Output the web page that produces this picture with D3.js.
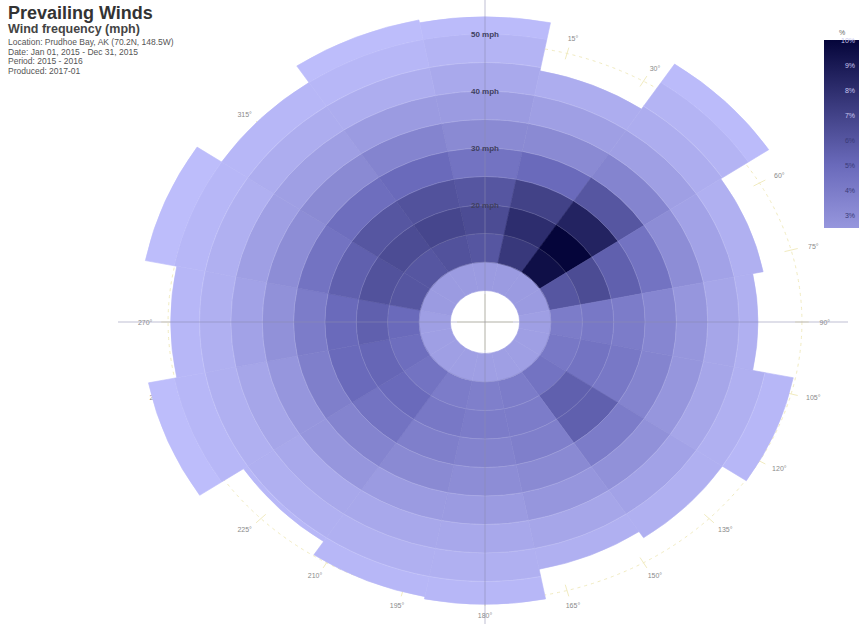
<!DOCTYPE html>
<html><head><meta charset="utf-8">
<script src="https://cdn.jsdelivr.net/npm/d3@7"></script>
<style>body{margin:0;background:#fff;} svg{display:block;font-family:"Liberation Sans",Arial,sans-serif;}</style>
</head><body><svg id="c" width="859" height="624"></svg>
<script>
// ---------------- data ----------------
const directions = ["N","NNE","NE","ENE","E","ESE","SE","SSE","S","SSW","SW","WSW","W","WNW","NW","NNW"];
const directionAngles = [0,22.5,45,67.5,90,112.5,135,157.5,180,202.5,225,247.5,270,292.5,315,337.5];
const speedEdges = [5,10,15,20,25,30,35,40,45,50,55];
// frequency (%) per speed bin, one array per direction
const freqN   = [2.2, 6.0, 6.5, 6.0, 4.5, 3.2, 2.2, 1.4, 0.8, 0.4];
const freqNNE = [2.2, 7.5, 8.0, 7.0, 5.0, 3.2, 2.0, 1.2, 0.6, 0.3];
const freqNE  = [2.2, 9.5, 10.0, 8.5, 6.0, 3.5, 2.0, 1.2, 0.8, 0.4];
const freqENE = [2.2, 6.0, 6.5, 5.5, 4.5, 3.0, 1.8, 1.0, 0.6, 0.3];
const freqE   = [2.0, 4.0, 4.2, 4.0, 3.4, 2.5, 1.6, 1.0, 0.5, 0.3];
const freqESE = [2.0, 4.2, 4.5, 4.2, 3.5, 2.5, 1.6, 1.0, 0.6, 0.3];
const freqSE  = [2.0, 4.5, 5.5, 5.5, 4.0, 2.8, 1.8, 1.0, 0.6, 0.3];
const freqSSE = [2.0, 4.0, 4.0, 3.8, 3.2, 2.5, 1.6, 1.0, 0.5, 0.3];
const freqS   = [2.0, 3.8, 4.0, 3.6, 3.0, 2.2, 1.5, 1.0, 0.6, 0.3];
const freqSSW = [2.0, 4.0, 4.2, 3.8, 3.2, 2.2, 1.5, 1.0, 0.6, 0.3];
const freqSW  = [2.0, 4.5, 5.0, 4.5, 3.5, 2.5, 1.5, 1.0, 0.6, 0.3];
const freqWSW = [2.0, 4.8, 5.2, 5.0, 3.8, 2.5, 1.6, 1.0, 0.6, 0.3];
const freqW   = [2.0, 5.0, 5.5, 5.0, 4.0, 2.8, 1.8, 1.0, 0.6, 0.3];
const freqWNW = [2.2, 6.0, 6.2, 5.5, 4.5, 3.0, 2.0, 1.0, 0.6, 0.3];
const freqNW  = [2.2, 6.0, 6.5, 6.0, 4.8, 3.2, 2.0, 1.2, 0.6, 0.3];
const freqNNW = [2.2, 6.2, 6.8, 6.2, 5.0, 3.5, 2.2, 1.2, 0.6, 0.3];
// highest speed reached per direction (mph)
const maxSpeed = [53, 44.4, 53.9, 44.7, 43, 49.6, 45, 43.7, 49, 48.6, 45.8, 54.2, 49.6, 54.7, 50, 53.5];
const angleTicks = [0,15,30,45,60,75,90,105,120,135,150,165,180,195,210,225,240,255,270,285,300,315,330,345];
const angleLabels = [15,30,45,60,75,90,105,120,135,150,165,180,195,210,225,240,255,270,285,300,315,330,345];
const radialTicks = [20,30,40,50];
const legendTicks = [3,4,5,6,7,8,9,10];
const titleText = "Prevailing Winds";
const subtitleText = "Wind frequency (mph)";
const infoLines = ["Location: Prudhoe Bay, AK (70.2N, 148.5W)", "Date: Jan 01, 2015 - Dec 31, 2015", "Period: 2015 - 2016", "Produced: 2017-01"];

const freqs = [freqN,freqNNE,freqNE,freqENE,freqE,freqESE,freqSE,freqSSE,freqS,freqSSW,freqSW,freqWSW,freqW,freqWNW,freqNW,freqNNW];

// ---------------- layout ----------------
const svg = d3.select("#c");
const cx = 485, cy = 322, sx = 1.1;
const r = d3.scaleLinear().domain([0, 50]).range([3, 288]);
const color = d3.scaleLinear().domain([0, 5, 10]).range(["#c2c2ff", "#6a6abb", "#05053a"]);
const rad = d => d * Math.PI / 180;
const px = (ang, rr, k = sx) => cx + k * rr * Math.sin(rad(ang));
const py = (ang, rr) => cy - rr * Math.cos(rad(ang));

// angular grid & labels (under the sectors)
svg.append("g").selectAll("line").data(angleTicks).join("line")
  .attr("x1", d => px(d, 272, 1.14)).attr("y1", d => py(d, 272))
  .attr("x2", d => px(d, 284, 1.14)).attr("y2", d => py(d, 284))
  .attr("stroke", "#f1ebc0").attr("stroke-width", 1);
svg.append("ellipse").attr("cx", cx).attr("cy", cy).attr("rx", 1.14 * 278).attr("ry", 278)
  .attr("fill", "none").attr("stroke", "#f1ebc0").attr("stroke-dasharray", "3,4");
svg.append("g").selectAll("text").data(angleLabels).join("text")
  .attr("x", d => px(d, 293, 1.16)).attr("y", d => py(d, 293) + 2.5)
  .attr("text-anchor", "middle").attr("font-size", 7).attr("fill", "#8a8a8a")
  .text(d => d + "°");

// sectors
const g = svg.append("g").attr("transform", `translate(${cx},${cy}) scale(${sx},1)`);
const arc = d3.arc();
const cells = [];
directions.forEach((dname, i) => {
  freqs[i].forEach((f, j) => {
    const s0 = speedEdges[j], s1 = Math.min(speedEdges[j + 1], maxSpeed[i]);
    if (s1 > s0) cells.push({ dir: dname, ang: directionAngles[i], s0, s1, f });
  });
});
g.selectAll("path").data(cells).join("path")
  .attr("d", d => arc({ innerRadius: r(d.s0), outerRadius: r(d.s1),
    startAngle: rad(d.ang - 11.25), endAngle: rad(d.ang + 11.25) }))
  .attr("fill", d => color(d.f))
  .attr("stroke", d => color(d.f)).attr("stroke-width", 0.6);
// faint ring lines
g.selectAll("circle.ring").data(speedEdges.slice(1, 9)).join("circle").attr("class", "ring")
  .attr("r", d => r(d)).attr("fill", "none").attr("stroke", "#ffffff").attr("stroke-opacity", 0.15).attr("stroke-width", 0.8);

// center hole crosshair
svg.append("line").attr("x1", cx - 28).attr("x2", cx + 28).attr("y1", cy).attr("y2", cy).attr("stroke", "#e9e4b0").attr("stroke-width", 0.8);
svg.append("line").attr("x1", cx).attr("x2", cx).attr("y1", cy - 28).attr("y2", cy + 28).attr("stroke", "#e9e4b0").attr("stroke-width", 0.8);

// main axes lines
svg.append("line").attr("x1", cx).attr("x2", cx).attr("y1", 0).attr("y2", 624)
  .attr("stroke", "#8c8cb0").attr("stroke-opacity", 0.55).attr("stroke-width", 1);
svg.append("line").attr("x1", 118).attr("x2", 848).attr("y1", cy).attr("y2", cy)
  .attr("stroke", "#8c8cb0").attr("stroke-opacity", 0.55).attr("stroke-width", 1);

// radial tick labels along N axis
svg.append("g").selectAll("text").data(radialTicks).join("text")
  .attr("x", cx).attr("y", d => cy - r(d) + 3)
  .attr("text-anchor", "middle").attr("font-size", 8).attr("font-weight", "bold").attr("fill", "#40405f")
  .text(d => d + " mph");

// title block
svg.append("text").attr("x", 8).attr("y", 19).attr("font-size", 18).attr("font-weight", "bold").attr("fill", "#333").text(titleText);
svg.append("text").attr("x", 8).attr("y", 33).attr("font-size", 12.5).attr("font-weight", "bold").attr("fill", "#444").text(subtitleText);
svg.append("g").selectAll("text").data(infoLines).join("text")
  .attr("x", 8).attr("y", (d, i) => 45 + i * 9.6).attr("font-size", 8.5).attr("fill", "#555").text(d => d);

// legend
const defs = svg.append("defs");
const grad = defs.append("linearGradient").attr("id", "lg").attr("x1", 0).attr("y1", 1).attr("x2", 0).attr("y2", 0);
const lScale = d3.scaleLinear().domain([2.5, 10]).range([228, 40]);
[2.5, 5, 7.5, 10].forEach(v => grad.append("stop").attr("offset", (v - 2.5) / 7.5).attr("stop-color", color(v)));
svg.append("rect").attr("x", 824).attr("y", lScale(10)).attr("width", 36).attr("height", lScale(2.5) - lScale(10)).attr("fill", "url(#lg)");
svg.append("g").selectAll("text").data(legendTicks).join("text")
  .attr("x", 855).attr("y", d => lScale(d) + 3).attr("text-anchor", "end")
  .attr("font-size", 7).attr("fill", d => d > 6 ? "#c8c8f0" : "#3a3a78").text(d => d + "%");
svg.append("text").attr("x", 842).attr("y", 35).attr("text-anchor", "middle").attr("font-size", 7).attr("fill", "#666").text("%");
</script></body></html>
